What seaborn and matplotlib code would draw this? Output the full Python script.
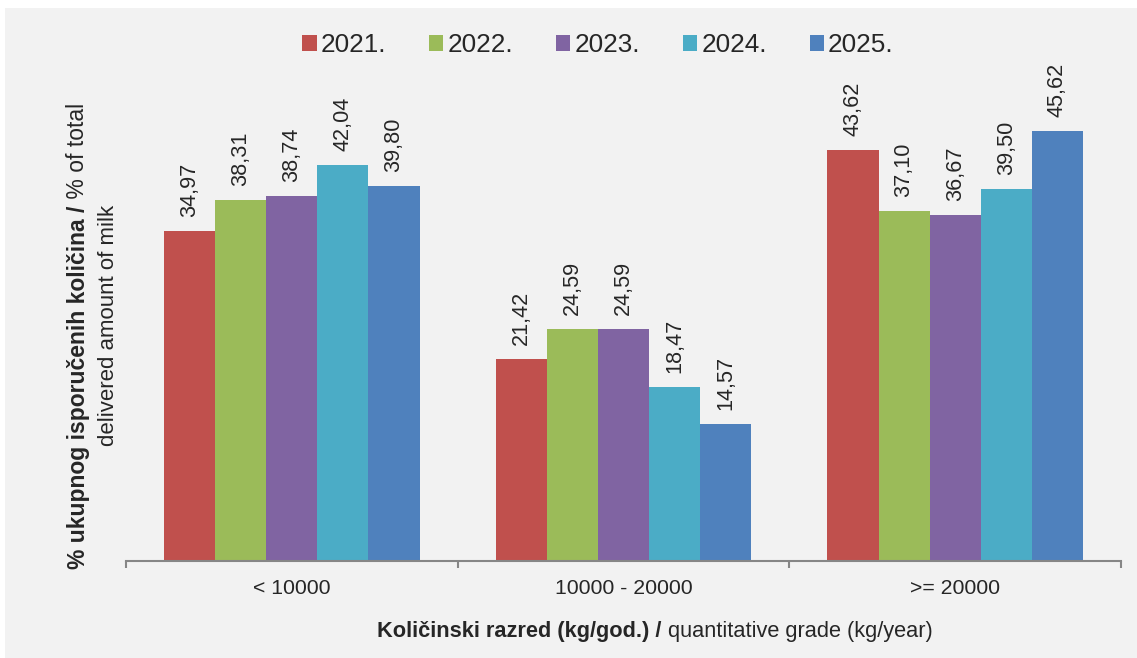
import matplotlib
matplotlib.use('Agg')
import matplotlib.pyplot as plt
from matplotlib import font_manager
from matplotlib.patches import Patch, Rectangle
import seaborn as sns
import pandas as pd

groups = ['< 10000', '10000 - 20000', '>= 20000']
years = ['2021.', '2022.', '2023.', '2024.', '2025.']
values_2021 = [34.97, 21.42, 43.62]
values_2022 = [38.31, 24.59, 37.10]
values_2023 = [38.74, 24.59, 36.67]
values_2024 = [42.04, 18.47, 39.50]
values_2025 = [39.80, 14.57, 45.62]
colors = ['#C0504D', '#9BBB59', '#8064A2', '#4BACC6', '#4F81BD']

ylabel_bold = '% ukupnog isporučenih količina /'
ylabel_rest = ' % of total'
ylabel_line2 = 'delivered amount of milk'
xlabel_bold = 'Količinski razred (kg/god.) /'
xlabel_rest = ' quantitative grade (kg/year)'

sns.set_style('white')
names = {f.name for f in font_manager.fontManager.ttflist}
if 'Liberation Sans Narrow' in names:
    family, k = 'Liberation Sans Narrow', 1.2
else:
    family, k = 'Liberation Sans', 1.0
plt.rcParams['font.family'] = [family, 'DejaVu Sans']

# long table for seaborn
all_values = [values_2021, values_2022, values_2023, values_2024, values_2025]
rows = []
for year, vals in zip(years, all_values):
    for g, v in zip(groups, vals):
        rows.append({'group': g, 'year': year, 'value': v})
df = pd.DataFrame(rows)

W, H = 1137, 658
fig = plt.figure(figsize=(W / 100, H / 100), dpi=100, facecolor='white')
fig.patches.append(Rectangle((5 / W, 0), 1, 1 - 8 / H, transform=fig.transFigure,
                             facecolor='#f2f2f2', edgecolor='none', zorder=-10))
ax = fig.add_axes([126 / W, 1 - 561 / H, (1121 - 126) / W, 471.5 / H])
ax.set_facecolor('none')

sns.barplot(data=df, x='group', y='value', hue='year', order=groups, hue_order=years,
            palette=colors, saturation=1, width=0.77, legend=False, linewidth=0, ax=ax)

for cont in ax.containers:
    labels = [f'{b.get_height():.2f}'.replace('.', ',') for b in cont]
    ax.bar_label(cont, labels=labels, rotation=90, padding=10, fontsize=15.6 * k)

ax.set_ylim(0, 50)
ax.set_xlim(-0.5, 2.5)
ax.set_yticks([])
ax.set_xticks([-0.5, 0.5, 1.5, 2.5])
ax.set_xticklabels([])
ax.set_xticks([0, 1, 2], minor=True)
ax.set_xticklabels(groups, minor=True, fontsize=15.3 * k)
ax.tick_params(axis='x', which='major', bottom=True, direction='out', length=5,
               width=1.5, color='#868686')
ax.tick_params(axis='x', which='minor', bottom=True, length=0, pad=13)
ax.set_xlabel('')
ax.set_ylabel('')
for side in ['top', 'left', 'right']:
    ax.spines[side].set_visible(False)
ax.spines['bottom'].set_color('#868686')
ax.spines['bottom'].set_linewidth(1.5)

handles = [Patch(facecolor=c, edgecolor='none') for c in colors]
fig.legend(handles, years, loc='center', bbox_to_anchor=(598 / W, 1 - 45 / H), ncol=5,
           frameon=False, fontsize=18.8 * k, handlelength=0.55, handleheight=0.55,
           handletextpad=0.15, columnspacing=1.65)

renderer = fig.canvas.get_renderer()


def mixed_text(x, y, parts, size, rotation=0):
    # parts: list of (text, weight); centred on pixel position (x, y from top)
    texts = []
    for s, w in parts:
        t = fig.text(0, 0, s, fontsize=size, fontweight=w, rotation=rotation,
                     ha='left', va='center', rotation_mode='anchor')
        texts.append(t)
    sizes = []
    for t in texts:
        bb = t.get_window_extent(renderer)
        sizes.append(bb.width if rotation == 0 else bb.height)
    pos = -sum(sizes) / 2
    for t, s in zip(texts, sizes):
        if rotation == 0:
            t.set_position(((x + pos) / W, 1 - y / H))
        else:
            t.set_position((x / W, (H - y + pos) / H))
        pos += s


mixed_text(655, 632, [(xlabel_bold, 'bold'), (xlabel_rest, 'normal')], 15.7 * k)
mixed_text(78, 336, [(ylabel_bold, 'bold'), (ylabel_rest, 'normal')], 16.5 * k, rotation=90)
fig.text(109 / W, 1 - 325 / H, ylabel_line2, fontsize=16 * k, rotation=90,
         ha='center', va='center')

fig.savefig('out.png', dpi=100, facecolor=fig.get_facecolor())
